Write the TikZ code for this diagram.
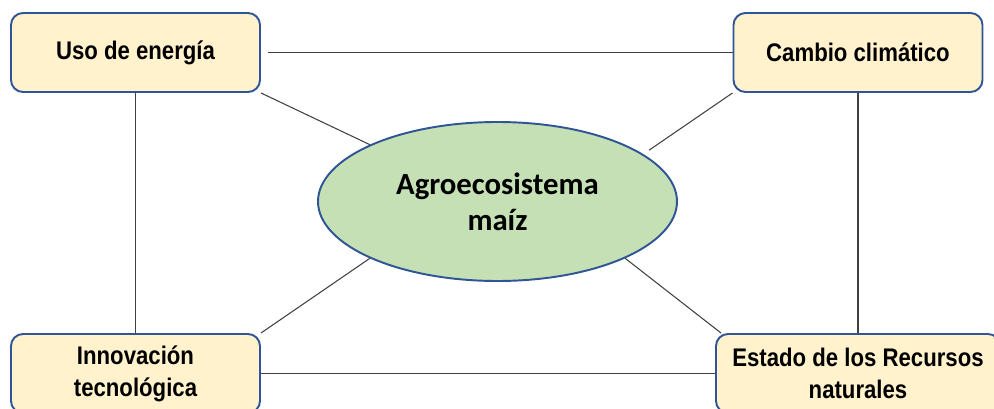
\documentclass[tikz,border=0pt]{standalone}
\usepackage{fontspec}
\setmainfont{Liberation Sans}
\newfontfamily\boxfont{Liberation Sans}[FakeStretch=0.87]
\newfontfamily\hubfont{Carlito}
\usetikzlibrary{shapes.geometric}
\definecolor{boxfill}{HTML}{FFF2CC}
\definecolor{boxline}{HTML}{2F5597}
\definecolor{hubfill}{HTML}{C5E0B4}
\definecolor{linkgray}{HTML}{404040}
\tikzset{
  box/.style={draw=boxline, line width=1.1pt, rounded corners=0.24cm, fill=boxfill, align=center,
    minimum width=4.98cm, minimum height=1.58cm, inner sep=0pt,
    font=\boxfont\bfseries\fontsize{14.5}{18.1}\selectfont},
  hub/.style={draw=boxline, line width=1.1pt, ellipse, fill=hubfill, align=center,
    minimum width=7.18cm, minimum height=3.18cm, inner sep=0pt,
    font=\hubfont\bfseries\fontsize{17.5}{20.4}\selectfont},
  link/.style={draw=linkgray, line width=0.6pt}
}
\begin{document}
\begin{tikzpicture}
  \useasboundingbox (0,0) rectangle (19.88,8.16);
  \clip (0,0) rectangle (19.88,8.16);
  \node[hub] (agro) at (9.95,4.13) {Agroecosistema\\maíz};
  \node[box] (uso) at (2.71,7.11) {Uso de energía};
  \node[box] (cambio) at (17.16,7.11) {Cambio climático};
  \node[box] (innov) at (2.71,0.69) {Innovación\\tecnológica};
  \node[box, minimum width=5.68cm] (estado) at (17.16,0.69) {Estado de los Recursos\\naturales};
  \draw[link, shorten <=0.14cm] (uso) -- (cambio);
  \draw[link] (innov) -- (estado);
  \draw[link] (uso) -- (innov);
  \draw[link] (cambio) -- (estado);
  \draw[link] (uso.south east) -- (agro.156);
  \draw[link, shorten >=0.14cm] (cambio.south west) -- (agro.18);
  \draw[link] (innov.north east) -- (agro.204);
  \draw[link] ([xshift=0.12cm]estado.north west) -- (agro.336);
\end{tikzpicture}
\end{document}
